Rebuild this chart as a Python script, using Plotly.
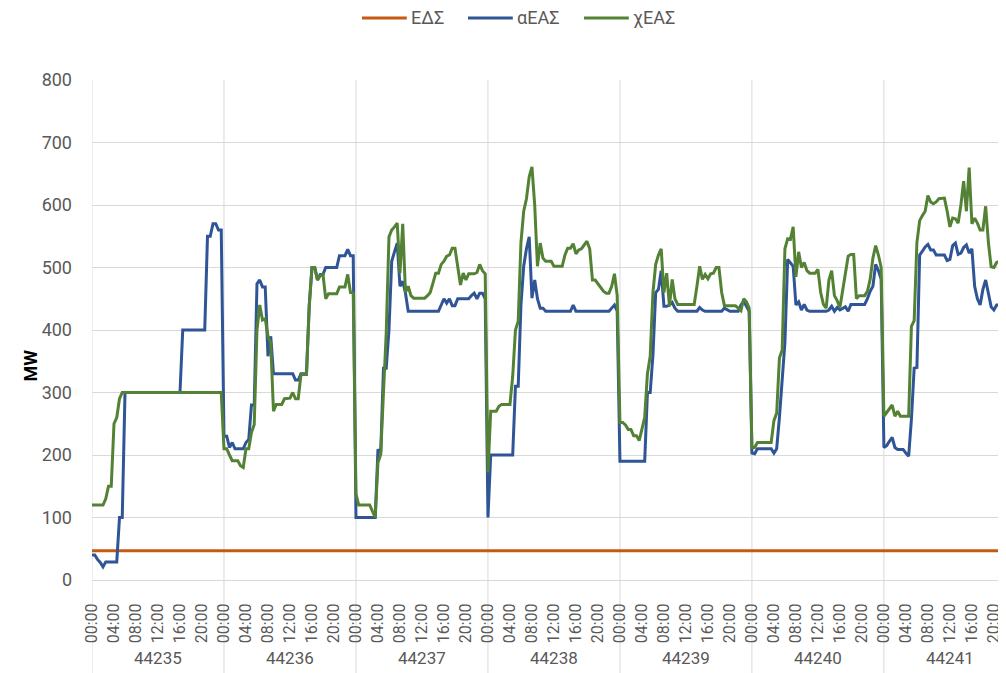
import plotly.graph_objects as go

DAYS = ["44235", "44236", "44237", "44238", "44239", "44240", "44241"]
HOUR_LABELS = ["00:00", "04:00", "08:00", "12:00", "16:00", "20:00"]
EDS = 47  # ΕΔΣ, σταθερή τιμή

# αΕΑΣ, ημιωριαίες τιμές (48 ανά ημέρα)
aeas = [
    # 44235
    40, 40, 33, 28, 21, 29, 29, 29, 29, 29, 100, 100,
    300, 300, 300, 300, 300, 300, 300, 300, 300, 300, 300, 300,
    300, 300, 300, 300, 300, 300, 300, 300, 300, 400, 400, 400,
    400, 400, 400, 400, 400, 400, 550, 550, 570, 570, 560, 560,
    # 44236
    230, 230, 212, 220, 210, 210, 210, 210, 220, 225, 280, 280,
    474, 480, 469, 469, 358, 390, 330, 330, 330, 330, 330, 330,
    330, 330, 320, 320, 330, 330, 330, 440, 500, 500, 480, 489,
    489, 500, 500, 500, 500, 500, 519, 519, 519, 529, 519, 519,
    # 44237
    100, 100, 100, 100, 100, 100, 100, 100, 209, 204, 339, 339,
    400, 510, 525, 539, 470, 478, 459, 430, 430, 430, 430, 430,
    430, 430, 430, 430, 430, 430, 430, 440, 450, 443, 450, 439,
    439, 450, 450, 450, 450, 450, 455, 459, 450, 459, 459, 450,
    # 44238
    100, 200, 200, 200, 200, 200, 200, 200, 200, 200, 310, 310,
    440, 502, 530, 549, 451, 480, 450, 435, 435, 430, 430, 430,
    430, 430, 430, 430, 430, 430, 430, 440, 430, 430, 430, 430,
    430, 430, 430, 430, 430, 430, 430, 430, 430, 435, 440, 430,
    # 44239
    190, 190, 190, 190, 190, 190, 190, 190, 190, 190, 300, 300,
    360, 460, 465, 495, 438, 438, 440, 444, 435, 430, 430, 430,
    430, 430, 430, 430, 430, 436, 432, 430, 430, 430, 430, 430,
    430, 430, 435, 432, 430, 430, 430, 430, 440, 446, 438, 430,
    # 44240
    203, 202, 210, 210, 210, 210, 210, 210, 203, 210, 260, 321,
    380, 513, 508, 502, 440, 445, 432, 441, 432, 430, 430, 430,
    430, 430, 430, 430, 432, 438, 430, 436, 432, 434, 437, 430,
    441, 441, 441, 441, 441, 441, 450, 462, 470, 505, 495, 481,
    # 44241
    212, 215, 222, 228, 212, 209, 209, 209, 203, 198, 257, 339,
    340, 520, 526, 533, 537, 528, 528, 520, 520, 520, 520, 511,
    513, 535, 539, 521, 523, 532, 536, 523, 530, 470, 450, 440,
    465, 480, 460, 437, 432, 440, 440, 448, 451, 480, 480, 470,
]

# χΕΑΣ, ημιωριαίες τιμές (48 ανά ημέρα)
xeas = [
    # 44235
    120, 120, 120, 120, 120, 130, 150, 150, 250, 260, 290, 300,
    300, 300, 300, 300, 300, 300, 300, 300, 300, 300, 300, 300,
    300, 300, 300, 300, 300, 300, 300, 300, 300, 300, 300, 300,
    300, 300, 300, 300, 300, 300, 300, 300, 300, 300, 300, 300,
    # 44236
    210, 210, 200, 191, 191, 191, 183, 180, 210, 210, 236, 249,
    400, 440, 416, 418, 390, 379, 270, 281, 281, 281, 290, 290,
    291, 300, 290, 290, 329, 329, 329, 437, 500, 500, 480, 487,
    489, 450, 458, 458, 458, 458, 469, 469, 469, 489, 460, 459,
    # 44237
    138, 120, 120, 120, 120, 120, 110, 100, 188, 201, 300, 395,
    549, 560, 565, 571, 491, 570, 460, 470, 455, 451, 451, 451,
    451, 451, 455, 460, 475, 491, 491, 505, 510, 518, 520, 531,
    531, 500, 472, 491, 480, 490, 490, 490, 492, 505, 495, 490,
    # 44238
    172, 270, 270, 270, 278, 281, 281, 281, 281, 326, 400, 414,
    540, 590, 610, 645, 661, 600, 502, 539, 515, 510, 510, 510,
    502, 502, 502, 502, 520, 531, 531, 538, 522, 528, 530, 536,
    542, 530, 480, 480, 474, 470, 462, 459, 459, 470, 490, 455,
    # 44239
    252, 252, 248, 241, 241, 231, 231, 223, 240, 260, 330, 358,
    460, 505, 520, 530, 460, 491, 438, 481, 450, 441, 441, 441,
    441, 441, 441, 441, 470, 502, 481, 489, 482, 490, 491, 500,
    500, 460, 439, 439, 439, 439, 439, 435, 431, 450, 445, 435,
    # 44240
    212, 212, 220, 220, 220, 220, 220, 220, 255, 267, 355, 368,
    530, 546, 545, 565, 485, 525, 500, 508, 495, 491, 491, 491,
    497, 460, 441, 435, 480, 495, 455, 447, 436, 462, 495, 518,
    521, 521, 450, 455, 455, 455, 462, 481, 515, 535, 520, 500,
    # 44241
    262, 268, 275, 280, 262, 270, 262, 262, 262, 262, 406, 415,
    540, 575, 583, 590, 615, 605, 602, 605, 610, 611, 611, 590,
    565, 579, 578, 571, 600, 638, 590, 660, 570, 579, 571, 560,
    560, 598, 540, 501, 500, 508, 510, 520, 530, 540, 540, 540,
]

FONT = "Roboto"
GREY = "#595959"
GRID = "#D9D9D9"
SERIES = [("ΕΔΣ", "#C55A11"), ("αΕΑΣ", "#2F5597"), ("χΕΑΣ", "#548235")]

# x σε ώρες από την αρχή της πρώτης ημέρας
x = [i * 0.5 for i in range(len(aeas))]

fig = go.Figure()
for (name, color), vals in zip(SERIES, [[EDS] * len(x), aeas, xeas]):
    fig.add_trace(go.Scatter(x=x, y=vals, name=name, mode="lines",
                             line=dict(color=color, width=3), showlegend=False))

tickvals = [d * 24 + h * 4 for d in range(len(DAYS)) for h in range(len(HOUR_LABELS))]
ticktext = [HOUR_LABELS[h] for d in range(len(DAYS)) for h in range(len(HOUR_LABELS))]

# διαχωριστικά ημερών (και κάθετο πλέγμα)
for d in range(len(DAYS)):
    fig.add_shape(type="line", xref="x", yref="paper", x0=d * 24, x1=d * 24,
                  y0=-0.2, y1=1, line=dict(color=GRID, width=1), layer="below")
    fig.add_annotation(x=d * 24 + 12, y=-0.18, xref="x", yref="paper", text=DAYS[d],
                       showarrow=False, font=dict(family=FONT, size=17, color=GREY))

# υπόμνημα στο πάνω μέρος, όπως στο Excel (γραμμή 45px + κείμενο)
legend_x = [0.2954, 0.4114, 0.5383]
for (name, color), lx in zip(SERIES, legend_x):
    fig.add_shape(type="line", xref="paper", yref="paper", x0=lx, x1=lx + 0.049,
                  y0=1.124, y1=1.124, line=dict(color=color, width=3))
    fig.add_annotation(x=lx + 0.051, y=1.124, xref="paper", yref="paper", text=name,
                       xanchor="left", yanchor="middle", showarrow=False,
                       font=dict(family=FONT, size=18, color=GREY))

fig.add_annotation(x=-0.081, y=0.43, xref="paper", yref="paper", text="<b>MW</b>",
                   textangle=-90, showarrow=False, font=dict(family=FONT, size=18, color="#000000"))

# η σελίδα έχει περιθώριο 8px, οπότε το σχήμα είναι λίγο μικρότερο από το παράθυρο
fig.update_layout(
    width=998, height=665,
    margin=dict(l=84, r=0, t=72, b=93, autoexpand=False),
    plot_bgcolor="white", paper_bgcolor="white",
    font=dict(family=FONT, color=GREY),
    xaxis=dict(range=[0, 166.2], tickvals=tickvals, ticktext=ticktext, tickangle=-90,
               showgrid=False, zeroline=False, showline=True, linecolor=GRID, linewidth=1,
               ticks="", ticklabelstandoff=16, automargin=False,
               tickfont=dict(size=16, color=GREY)),
    yaxis=dict(range=[0, 800], dtick=100, showgrid=True, gridcolor=GRID, gridwidth=1,
               zeroline=False, showline=False, ticks="", ticklabelstandoff=19, automargin=False,
               tickfont=dict(size=18, color=GREY)),
)

fig.write_html("out.html")
